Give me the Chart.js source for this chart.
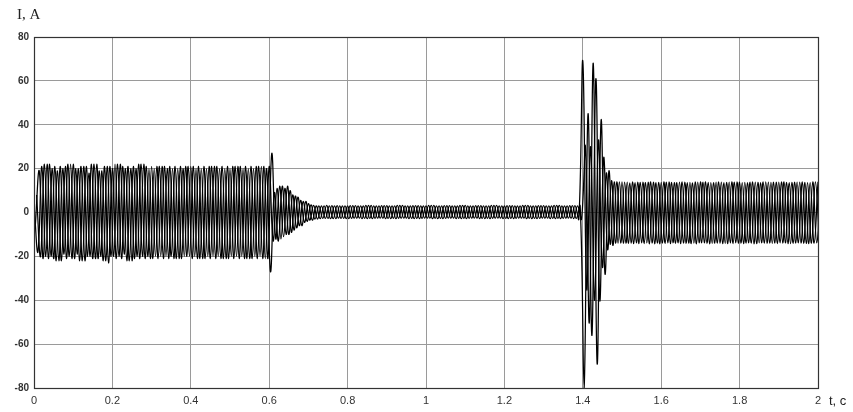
<!DOCTYPE html>
<html>
<head>
<meta charset="utf-8">
<script src="https://cdn.jsdelivr.net/npm/chart.js@4/dist/chart.umd.min.js"></script>
<style>
  html, body { margin: 0; padding: 0; background: #fff; }
  #wrap { width: 853px; height: 412px; position: relative; }
</style>
</head>
<body>
<div id="wrap"><canvas id="c" width="853" height="412"></canvas></div>
<script>
// ---- Data (peak values of each phase current, A) ----
const yLabel = "I, A";
const xLabel = "t, c";
const xTickValues = [0, 0.2, 0.4, 0.6, 0.8, 1, 1.2, 1.4, 1.6, 1.8, 2];
const yTickValues = [-80, -60, -40, -20, 0, 20, 40, 60, 80];
// Successive peaks are sampled every half period (s); each phase is shifted in time (s)
const peakStep = 0.01;
const phaseShiftA = 0;
const phaseShiftB = 0.00667;
const phaseShiftC = 0.00333;

const phaseA = [
  4, -18, 21, -20, 22, -21, 19, -22, 21, -20,
  22, -19, 21, -22, 18, -21, 22, -20, 21, -23,
  20, -21, 22, -19, 21, -22, 20, -21, 22, -20,
  21, -20, 21, -21, 20, -20, 21, -21, 20, -20,
  21, -20, 21, -21, 20, -21, 21, -20, 21, -21,
  20, -21, 21, -20, 21, -21, 20, -21, 21, -21,
  21, -13, 11, -12, 11, -10, 8, -7, 5.5, -4.5,
  4, -3.5, 3, -2.8, 3, -2.7, 3.1, -2.8, 3, -2.7,
  3, -2.7, 3.1, -2.6, 3, -2.8, 3.2, -2.7, 3, -2.6,
  3.1, -2.8, 3, -2.7, 3.2, -2.6, 3, -2.8, 3.1, -2.7,
  3, -2.6, 3.2, -2.8, 3, -2.7, 3.1, -2.6, 3, -2.8,
  3.2, -2.7, 3, -2.6, 3.1, -2.8, 3, -2.7, 3.2, -2.6,
  3, -2.8, 3.1, -2.7, 3, -2.6, 3.2, -2.8, 3, -2.7,
  3.1, -2.6, 3, -2.8, 3.2, -2.7, 3, -2.6, 3.1, -3,
  69, -35, 30, -40, 33, -25, 18, -14.5, 14, -14,
  14, -14, 13.5, -14.2, 13.8, -13.9, 13.6, -14.3, 13.9, -14,
  13.7, -14.1, 14, -13.8, 13.6, -14.2, 13.9, -14, 13.5, -14.3,
  14, -13.9, 13.7, -14.1, 13.8, -14, 13.6, -14.2, 14, -13.8,
  13.8, -14.2, 13.6, -14, 13.9, -13.9, 14, -14.1, 13.7, -14,
  13.9, -14, 13.7, -14.2, 13.8, -13.9, 14, -14.1, 13.6, -14,
  14
];

const phaseB = [
  8, -20, 22, -21, 20, -22, 21, -19, 22, -21,
  20, -22, 21, -20, 22, -21, 19, -22, 21, -20,
  22, -20, 21, -22, 20, -21, 22, -20, 21, -21,
  20, -21, 21, -20, 21, -21, 20, -21, 21, -20,
  21, -21, 20, -21, 21, -20, 21, -21, 20, -21,
  21, -20, 21, -21, 20, -21, 21, -20, 21, -21,
  27, -12, 12, -11, 12, -9, 7.5, -6, 5, -4,
  3.5, -3, 3, -2.7, 3.2, -2.8, 3, -2.6, 3, -2.8,
  3.1, -2.6, 3, -2.8, 3.2, -2.7, 3, -2.6, 3.1, -2.8,
  3, -2.7, 3.2, -2.6, 3, -2.8, 3.1, -2.7, 3, -2.6,
  3.2, -2.8, 3, -2.7, 3.1, -2.6, 3, -2.8, 3.2, -2.7,
  3, -2.6, 3.1, -2.8, 3, -2.7, 3.2, -2.6, 3, -2.8,
  3.1, -2.7, 3, -2.6, 3.2, -2.8, 3, -2.7, 3.1, -2.6,
  3, -2.8, 3.2, -2.7, 3, -2.6, 3.1, -2.8, 3, -3,
  30, -50, 68, -69, 42, -28, 19, -15, 14, -14,
  13.8, -14.1, 14, -13.9, 13.7, -14.2, 13.9, -14, 13.6, -14.3,
  14, -13.8, 13.7, -14.1, 13.9, -14, 13.6, -14.2, 14, -13.9,
  13.8, -14.1, 13.6, -14, 14, -14.2, 13.7, -13.9, 13.9, -14.1,
  13.6, -14, 13.9, -14.3, 13.7, -13.9, 14, -14, 13.8, -14.2,
  14, -13.9, 13.6, -14.1, 13.9, -14, 13.7, -14.2, 14, -13.8,
  13.8
];

const phaseC = [
  -6, 19, -21, 22, -20, 21, -22, 20, -21, 22,
  -21, 20, -22, 21, -20, 22, -21, 19, -22, 21,
  -20, 22, -21, 20, -22, 21, -20, 22, -21, 20,
  -21, 21, -20, 21, -21, 20, -21, 21, -20, 21,
  -21, 20, -21, 21, -20, 21, -21, 20, -21, 21,
  -20, 21, -21, 20, -21, 21, -20, 21, -21, 20,
  -27, 9, -13, 12, -10, 10, -8, 7, -6, 5,
  -3.5, 3.2, -3, 3, -2.7, 3, -2.8, 3.1, -2.7, 3,
  -2.8, 3.1, -2.6, 3, -2.7, 3.2, -2.8, 3, -2.6, 3.1,
  -2.7, 3, -2.8, 3.2, -2.6, 3, -2.7, 3.1, -2.8, 3,
  -2.6, 3.2, -2.7, 3, -2.8, 3.1, -2.6, 3, -2.7, 3.2,
  -2.8, 3, -2.6, 3.1, -2.7, 3, -2.8, 3.2, -2.6, 3,
  -2.7, 3.1, -2.8, 3, -2.6, 3.2, -2.7, 3, -2.8, 3.1,
  -2.6, 3, -2.7, 3.2, -2.8, 3, -2.6, 3.1, -2.7, 3,
  -80, 45, -56, 61, -40, 25, -17, 14.5, -14, 14,
  -14.1, 13.8, -14, 13.6, -14.2, 13.9, -13.9, 14, -14.3, 13.7,
  -14, 13.9, -14.2, 13.6, -13.8, 14, -14.1, 13.7, -14, 13.8,
  -13.9, 14, -14.3, 13.6, -14, 13.9, -14.1, 13.8, -14.2, 14,
  -14, 13.7, -13.9, 14, -14.2, 13.6, -14, 13.9, -14.1, 13.8,
  -13.8, 14, -14.2, 13.7, -14, 13.9, -14.1, 13.6, -14, 14,
  -14
];

function toPoints(values, shift) {
  return values.map((v, k) => ({ x: shift + k * peakStep, y: v }));
}

const lineStyle = {
  borderColor: '#000',
  borderWidth: 1.25,
  pointRadius: 0,
  tension: 0.4,
  fill: false
};

const frame = {
  id: 'frame',
  afterDraw(chart) {
    const { ctx, chartArea: a } = chart;
    ctx.save();
    ctx.strokeStyle = '#333';
    ctx.lineWidth = 1.2;
    ctx.strokeRect(a.left + 0.5, a.top + 0.5, a.right - a.left, a.bottom - a.top);
    ctx.fillStyle = '#222';
    ctx.font = '15px "Liberation Serif"';
    ctx.textAlign = 'left';
    ctx.textBaseline = 'middle';
    ctx.fillText(yLabel, 17, 15);
    ctx.font = '13px "Liberation Sans"';
    ctx.fillText(xLabel, 829, 401);
    ctx.restore();
  }
};

new Chart(document.getElementById('c'), {
  type: 'line',
  data: {
    datasets: [
      Object.assign({ label: 'A', data: toPoints(phaseA, phaseShiftA) }, lineStyle),
      Object.assign({ label: 'B', data: toPoints(phaseB, phaseShiftB) }, lineStyle),
      Object.assign({ label: 'C', data: toPoints(phaseC, phaseShiftC) }, lineStyle)
    ]
  },
  options: {
    responsive: false,
    animation: false,
    layout: { padding: { top: 37, right: 35, left: 0, bottom: 0 } },
    plugins: { legend: { display: false }, tooltip: { enabled: false } },
    scales: {
      x: {
        type: 'linear',
        min: 0, max: 2,
        afterBuildTicks: s => { s.ticks = xTickValues.map(v => ({ value: v })); },
        afterFit: s => { s.height = 24; },
        grid: { color: '#9a9a9a', lineWidth: 1, drawTicks: false },
        border: { display: false },
        ticks: {
          color: '#333', padding: 6, maxRotation: 0,
          font: { family: 'Liberation Sans', size: 11 },
          callback: v => String(v)
        }
      },
      y: {
        min: -80, max: 80,
        afterBuildTicks: s => { s.ticks = yTickValues.map(v => ({ value: v })); },
        afterFit: s => { s.width = 34; },
        grid: { color: '#9a9a9a', lineWidth: 1, drawTicks: false },
        border: { display: false },
        ticks: {
          color: '#333', padding: 5,
          font: { family: 'Liberation Sans', size: 10, weight: 'bold' },
          callback: v => String(v)
        }
      }
    }
  },
  plugins: [frame]
});
</script>
</body>
</html>
